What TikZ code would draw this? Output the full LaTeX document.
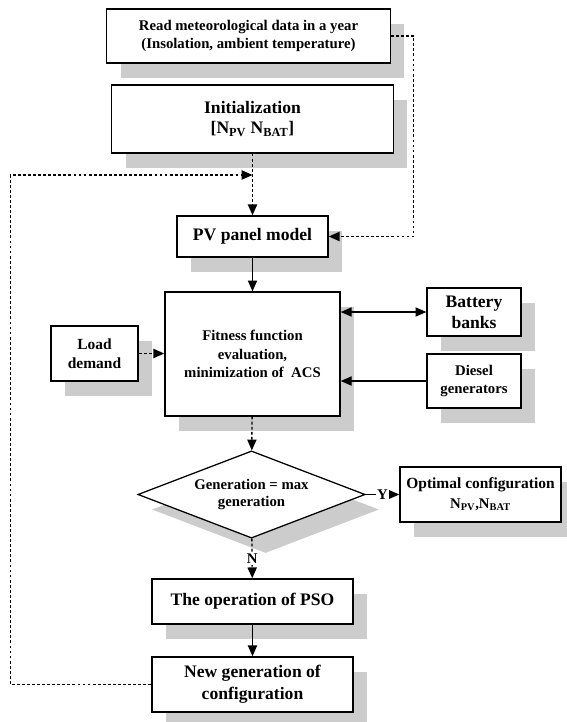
\documentclass[tikz,border=0pt]{standalone}
\usepackage{fontspec}
\setmainfont{Liberation Serif}
\usetikzlibrary{shapes.geometric, arrows.meta, positioning, shadows}

\begin{document}
\begin{tikzpicture}[x=0.025cm, y=-0.025cm, line width=0.8pt,
    >={Triangle[length=2.7mm, width=2.3mm]},
    block/.style={draw, fill=white, line width=0.9pt, align=center, inner sep=1pt,
        font=\bfseries\fontsize{12.5}{15}\selectfont,
        drop shadow={shadow xshift=0.35cm, shadow yshift=-0.375cm, fill=black!20, opacity=1}},
    small/.style={font=\bfseries\fontsize{10.5}{13}\selectfont},
    dotline/.style={line width=1pt, dash pattern=on 2pt off 1.6pt}]
    \useasboundingbox (0,0) rectangle (566,722);

    \node[block, small, minimum width=7.08cm, minimum height=1.35cm] (read) at (248.5,36)
        {Read meteorological data in a year\\(Insolation, ambient temperature)};
    \node[block, font=\bfseries\fontsize{12.5}{14.5}\selectfont, minimum width=7.03cm, minimum height=1.7cm] (init) at (252.5,119)
        {Initialization\\{[}N\textsubscript{PV} N\textsubscript{BAT}]};
    \node[block, minimum width=3.78cm, minimum height=1.03cm] (pv) at (252.5,236.5) {PV panel model};
    \node[block, small, minimum width=4.38cm, minimum height=3.1cm] (fit) at (252.5,354)
        {Fitness function\\evaluation,\\minimization of~~ACS};
    \node[block, font=\bfseries\fontsize{11}{13.5}\selectfont, minimum width=2.18cm, minimum height=1.38cm] (load) at (94.5,353.5) {Load\\demand};
    \node[block, minimum width=2.35cm, minimum height=1.2cm] (bat) at (474,312) {Battery\\banks};
    \node[block, font=\bfseries\fontsize{10.5}{12.5}\selectfont, minimum width=2.35cm, minimum height=1.35cm] (dsl) at (474,381) {Diesel\\generators};
    \node[block, shape=diamond, aspect=2.6, inner sep=0pt, font=\bfseries\fontsize{10.5}{12.5}\selectfont,
        minimum width=5.68cm, minimum height=2.18cm] (dec) at (251.5,494.5) {Generation = max\\generation};
    \node[block, font=\bfseries\fontsize{11}{14}\selectfont, minimum width=4.03cm, minimum height=1.38cm] (opt) at (480.5,494.5)
        {Optimal configuration\\{\fontsize{10.5}{12}\selectfont N\textsubscript{PV},N\textsubscript{BAT}}};
    \node[block, minimum width=5.03cm, minimum height=1.13cm] (pso) at (252.5,601.5) {The operation of PSO};
    \node[block, font=\bfseries\fontsize{12.5}{15.5}\selectfont, minimum width=5.03cm, minimum height=1.38cm] (ngen) at (252.5,684.5)
        {New generation of\\configuration};
    \coordinate (merge) at (252.5,175);

    \draw[->, dotline] (read.east) -- ++(23,0) |- (pv.east);
    \draw[->, dotline] (init) -- (pv);
    \draw[->] (pv) -- (fit);
    \draw[<->] (fit.east |- bat) -- (bat);
    \draw[->] (dsl) -- (fit.east |- dsl);
    \draw[->, dotline] (load) -- (load -| fit.west);
    \draw[->, dotline] (fit) -- (dec);
    \draw[->] (dec) -- node[fill=white, inner sep=1pt, small] {Y} (opt);
    \draw[->, dotline] (dec) -- node[fill=white, inner sep=1pt, small] {N} (pso);
    \draw[->] (pso) -- (ngen);
    \draw[->, dotline] (ngen.west) -- ++(-141,0) |- (merge);
\end{tikzpicture}
\end{document}
